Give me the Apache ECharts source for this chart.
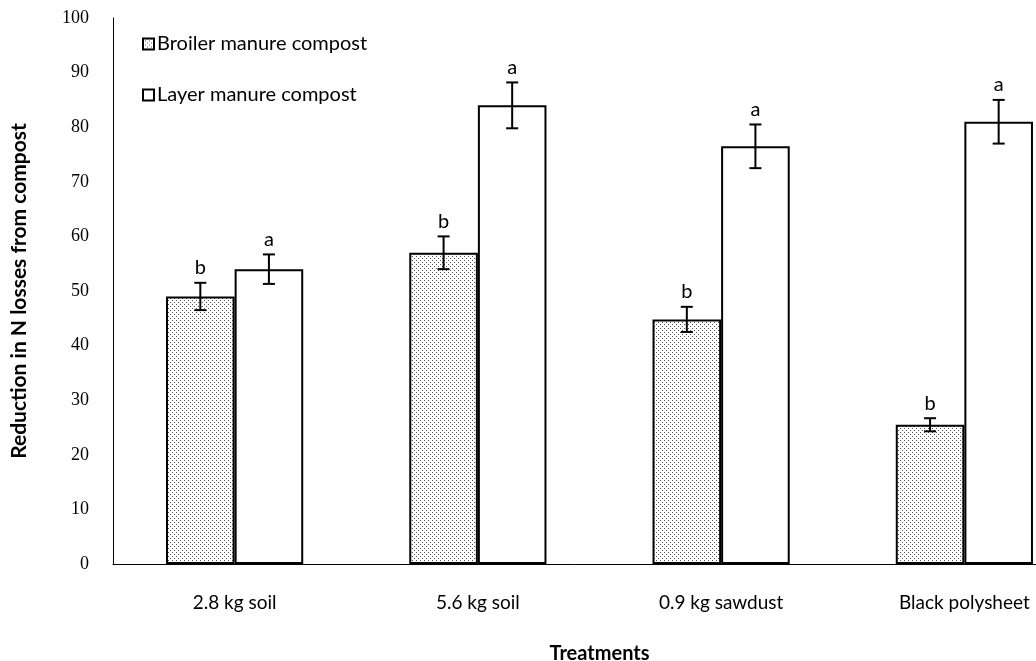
<!DOCTYPE html>
<html><head><meta charset="utf-8">
<script src="https://cdn.jsdelivr.net/npm/echarts@6/dist/echarts.min.js"></script>
<style>html,body{margin:0;padding:0;background:#fff}#c{width:1036px;height:661px}</style>
</head><body><div id="c"></div>
<script>
const categories = ['2.8 kg soil', '5.6 kg soil', '0.9 kg sawdust', 'Black polysheet'];
const broiler = [49, 57, 44.8, 25.5];
const broilerErr = [2.5, 3, 2.3, 1.2];
const layer = [54, 84, 76.5, 81];
const layerErr = [2.7, 4.2, 4, 4];
const broilerLetters = ['b', 'b', 'b', 'b'];
const layerLetters = ['a', 'a', 'a', 'a'];
const yTicks = [0, 10, 20, 30, 40, 50, 60, 70, 80, 90, 100];

const pc = document.createElement('canvas');
pc.width = 4; pc.height = 4;
const g = pc.getContext('2d');
g.fillStyle = '#fff'; g.fillRect(0, 0, 4, 4);
g.fillStyle = '#555';
g.fillRect(0, 0, 1, 1); g.fillRect(2, 2, 1, 1);

const SANS = 'Lato, "Open Sans", sans-serif';
const gapPct = 43.6;
function errSeries(vals, errs, letters, side) {
  return {
    type: 'custom', silent: true, z: 10,
    data: vals.map((v, i) => [i, v, errs[i], letters[i]]),
    renderItem: function (params, api) {
      const i = api.value(0), v = api.value(1), e = api.value(2);
      const catW = api.size([1, 0])[0];
      const bw = catW * (1 - gapPct / 100) / 2;
      const c = api.coord([i, v]);
      const x = c[0] + side * bw / 2;
      const yT = api.coord([i, v + e])[1];
      const yB = api.coord([i, v - e])[1];
      const cap = 6;
      const st = { stroke: '#000', lineWidth: 2 };
      return { type: 'group', children: [
        { type: 'line', shape: { x1: x, y1: yT, x2: x, y2: yB }, style: st },
        { type: 'line', shape: { x1: x - cap, y1: yT, x2: x + cap, y2: yT }, style: st },
        { type: 'line', shape: { x1: x - cap, y1: yB, x2: x + cap, y2: yB }, style: st },
        { type: 'text', style: { text: letters[i], x: x, y: yT - 5, textAlign: 'center', textVerticalAlign: 'bottom', fill: '#000', font: '20px Lato, "Open Sans", sans-serif' } }
      ] };
    }
  };
}

const chart = echarts.init(document.getElementById('c'));
chart.setOption({
  animation: false,
  backgroundColor: '#fff',
  grid: { left: 113, width: 973, top: 18, height: 546, containLabel: false, outerBoundsMode: 'none' },
  legend: {
    orient: 'vertical', left: 137, top: 29, itemGap: 31,
    itemWidth: 11, itemHeight: 11, icon: 'rect',
    data: ['Broiler manure compost', 'Layer manure compost'],
    textStyle: { fontFamily: SANS, fontSize: 20, color: '#000', padding: [0, 0, 0, -2] }
  },
  xAxis: {
    type: 'category', data: categories,
    name: 'Treatments', nameLocation: 'middle', nameGap: 80,
    nameTextStyle: { fontFamily: SANS, fontSize: 20, fontWeight: 'bold', color: '#000' },
    axisLine: { lineStyle: { color: '#000', width: 1 } },
    axisTick: { show: false },
    axisLabel: { margin: 29, color: '#000', fontFamily: SANS, fontSize: 19 }
  },
  yAxis: {
    type: 'value', min: 0, max: 100, interval: 10,
    name: 'Reduction in N losses from compost', nameLocation: 'middle', nameGap: 83, nameRotate: 90,
    nameTextStyle: { fontFamily: SANS, fontSize: 21, fontWeight: 'bold', color: '#000' },
    axisLine: { show: true, lineStyle: { color: '#000', width: 1 } },
    axisTick: { show: false },
    splitLine: { show: false },
    axisLabel: { margin: 24, color: '#000', fontFamily: '"Liberation Serif", serif', fontSize: 18,
      formatter: v => yTicks.includes(v) ? String(v) : '' }
  },
  series: [
    { name: 'Broiler manure compost', type: 'bar', data: broiler, barGap: '0%', barCategoryGap: gapPct + '%',
      itemStyle: { color: { image: pc, repeat: 'repeat' }, borderColor: '#000', borderWidth: 2 } },
    { name: 'Layer manure compost', type: 'bar', data: layer, barGap: '0%', barCategoryGap: gapPct + '%',
      itemStyle: { color: '#fff', borderColor: '#000', borderWidth: 2 } },
    errSeries(broiler, broilerErr, broilerLetters, -1),
    errSeries(layer, layerErr, layerLetters, 1)
  ]
});
</script></body></html>
